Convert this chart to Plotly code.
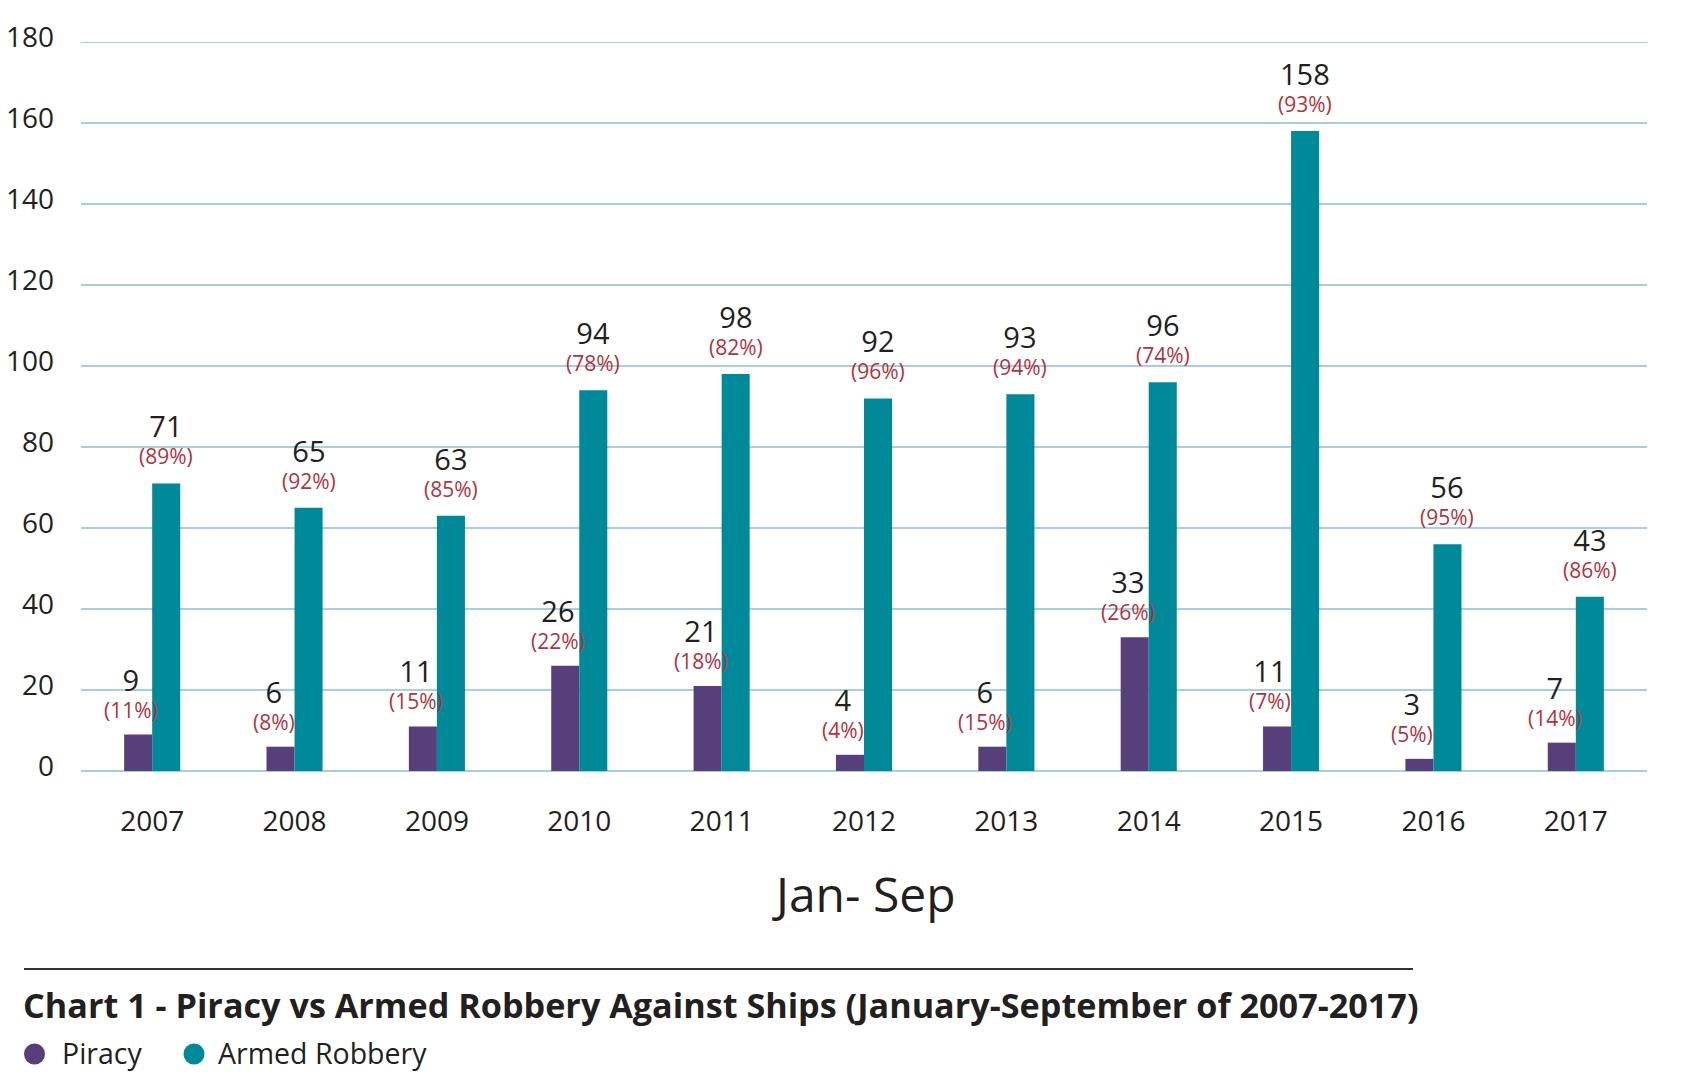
import plotly.graph_objects as go

years = ["2007", "2008", "2009", "2010", "2011", "2012", "2013", "2014", "2015", "2016", "2017"]
piracy = [9, 6, 11, 26, 21, 4, 6, 33, 11, 3, 7]
piracy_pct = ["11%", "8%", "15%", "22%", "18%", "4%", "15%", "26%", "7%", "5%", "14%"]
robbery = [71, 65, 63, 94, 98, 92, 93, 96, 158, 56, 43]
robbery_pct = ["89%", "92%", "85%", "78%", "82%", "96%", "94%", "74%", "93%", "95%", "86%"]
y_ticks = [0, 20, 40, 60, 80, 100, 120, 140, 160, 180]
series_names = ["Piracy", "Armed Robbery"]

PURPLE = "#563f7a"
TEAL = "#008a99"
RED = "#b3323e"
GRID = "#a6d0db"
TXT = "#231f20"
FONT = "Open Sans"

# plot area in pixels (for placing things outside the plot)
L, R, T, B = 81, 41, 42, 301
W, H = 1688, 1072
PW, PH = W - L - R, H - T - B


def px_x(px):
    return (px - L) / PW


def px_y(py):
    return (H - B - py) / PH


def label(v, p):
    return ("<span style='font-size:29px;color:%s'>%s</span><br>(%s)" % (TXT, v, p))


fig = go.Figure()
fig.add_trace(go.Bar(x=years, y=piracy, marker=dict(color=PURPLE, line=dict(width=0)),
                     showlegend=False, hoverinfo="skip"))
fig.add_trace(go.Bar(x=years, y=robbery, marker=dict(color=TEAL, line=dict(width=0)),
                     showlegend=False, hoverinfo="skip"))

annotations = []
for i, (v, p) in enumerate(zip(piracy, piracy_pct)):
    annotations.append(dict(x=i, y=v, xref="x", yref="y", text=label(v, p), showarrow=False,
                            xshift=-21, yshift=10, yanchor="bottom", borderpad=0,
                            font=dict(family=FONT, size=21, color=RED)))
for i, (v, p) in enumerate(zip(robbery, robbery_pct)):
    annotations.append(dict(x=i, y=v, xref="x", yref="y", text=label(v, p), showarrow=False,
                            xshift=14, yshift=12, yanchor="bottom", borderpad=0,
                            font=dict(family=FONT, size=21, color=RED)))

annotations.append(dict(x=0.5, y=px_y(893), xref="paper", yref="paper", text="Jan- Sep",
                        showarrow=False, xanchor="center", yanchor="middle",
                        font=dict(family=FONT, size=48, color=TXT)))
annotations.append(dict(x=px_x(21), y=px_y(1004), xref="paper", yref="paper",
                        text="<b>Chart 1 - Piracy vs Armed Robbery Against Ships (January-September of 2007-2017)</b>",
                        showarrow=False, xanchor="left", yanchor="middle",
                        font=dict(family=FONT, size=34.2, color=TXT)))

shapes = [dict(type="line", xref="paper", yref="paper", x0=px_x(24), x1=px_x(1413),
               y0=px_y(969), y1=px_y(969), line=dict(color="#333333", width=2)),
          dict(type="line", xref="paper", yref="y", x0=0, x1=1, y0=y_ticks[-1], y1=y_ticks[-1],
               line=dict(color=GRID, width=2), layer="below")]

# manual legend with round markers
legend_items = [(series_names[0], PURPLE, 34.5, 60), (series_names[1], TEAL, 194, 216)]
for name, col, cx, tx in legend_items:
    shapes.append(dict(type="circle", xref="paper", yref="paper", xsizemode="pixel",
                       ysizemode="pixel", xanchor=px_x(cx), yanchor=px_y(1054),
                       x0=-10.5, x1=10.5, y0=-10.5, y1=10.5,
                       fillcolor=col, line=dict(width=0)))
    annotations.append(dict(x=px_x(tx), y=px_y(1053), xref="paper", yref="paper", text=name,
                            showarrow=False, xanchor="left", yanchor="middle",
                            font=dict(family=FONT, size=28.5, color=TXT)))

fig.update_layout(
    width=W, height=H,
    margin=dict(l=L, r=R, t=T, b=B),
    paper_bgcolor="white", plot_bgcolor="white",
    barmode="group", bargap=0.606, bargroupgap=0,
    font=dict(family=FONT, color=TXT),
    annotations=annotations,
    shapes=shapes,
    showlegend=False,
    xaxis=dict(type="category", range=[-0.5, len(years) - 0.5], showgrid=False, zeroline=False,
               showline=False, ticks="", automargin=False,
               tickfont=dict(family=FONT, size=28, color=TXT), ticklabelstandoff=31),
    yaxis=dict(range=[0, 180], tickvals=y_ticks, showgrid=True, gridcolor=GRID, gridwidth=2,
               zeroline=True, zerolinecolor=GRID, zerolinewidth=2, showline=False, ticks="",
               automargin=False,
               tickfont=dict(family=FONT, size=28, color=TXT), ticklabelstandoff=26,
               ticklabelshift=-5),
)

fig.write_html("out.html")
